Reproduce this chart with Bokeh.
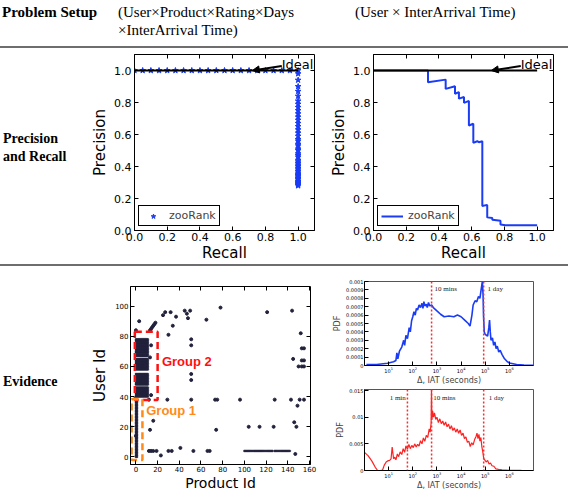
from bokeh.plotting import figure
from bokeh.layouts import column, row
from bokeh.models import (Div, FixedTicker, PrintfTickFormatter, LinearAxis, Arrow, NormalHead,
                          Label, Legend, LegendItem, Span, CustomJSTickFormatter)
from bokeh.embed import file_html
from bokeh.resources import INLINE

# ---------------- data ----------------
# Panel 1: precision / recall (User x Product x Rating x Days x IAT)
pr1_recall = [0.0, 0.05, 0.1, 0.15, 0.2, 0.25, 0.3, 0.35, 0.4, 0.45, 0.5, 0.55, 0.6, 0.65, 0.7,
              0.75, 0.8, 0.85, 0.9, 0.95, 1.0,
              1.0, 1.0, 1.0, 1.0, 1.0, 1.0, 1.0, 1.0, 1.0, 1.0, 1.0, 1.0, 1.0, 1.0, 1.0, 1.0,
              1.0, 1.0, 1.0, 1.0, 1.0, 1.0, 1.0, 1.0, 1.0, 1.0, 1.0, 1.0, 1.0, 1.0, 1.0, 1.0,
              1.0, 1.0, 1.0, 1.0, 1.0, 1.0, 1.0, 1.0, 1.0, 1.0, 1.0, 1.0, 1.0, 1.0, 1.0, 1.0]
pr1_precision = [1.0, 1.0, 1.0, 1.0, 1.0, 1.0, 1.0, 1.0, 1.0, 1.0, 1.0, 1.0, 1.0, 1.0, 1.0,
                 1.0, 1.0, 1.0, 1.0, 1.0, 1.0,
                 0.98, 0.94, 0.90, 0.87, 0.84, 0.81, 0.79, 0.77, 0.75, 0.73, 0.71, 0.69, 0.67,
                 0.65, 0.63, 0.61, 0.59, 0.57, 0.56, 0.54, 0.53, 0.51, 0.50, 0.48, 0.47, 0.46,
                 0.44, 0.43, 0.42, 0.41, 0.40, 0.39, 0.38, 0.37, 0.36, 0.35, 0.345, 0.34, 0.33,
                 0.325, 0.32, 0.31, 0.305, 0.30, 0.295, 0.29, 0.285, 0.28]

# Panel 2: precision / recall (User x IAT)
pr2_recall = [0.0, 0.333, 0.333, 0.441, 0.441, 0.498, 0.498, 0.522, 0.522, 0.553, 0.553,
              0.583, 0.583, 0.610, 0.610, 0.634, 0.644, 0.665, 0.665, 0.695, 0.695, 0.726,
              0.726, 0.776, 0.776, 0.807, 1.0]
pr2_precision = [1.0, 1.0, 0.926, 0.943, 0.885, 0.902, 0.855, 0.865, 0.824, 0.834, 0.798,
                 0.810, 0.656, 0.667, 0.548, 0.558, 0.552, 0.558, 0.153, 0.160, 0.082, 0.078,
                 0.067, 0.061, 0.037, 0.033, 0.033]

ideal_recall = [0.0, 1.0]
ideal_precision = [1.0, 1.0]

# Evidence: user x product scatter
sparse_products = [3, 0, 15, 17, 18, 13, 14, 16, 27, 32, 25, 37, 34, 45, 50, 47, 48, 65, 78, 30,
                   51, 51, 51, 51, 51, 29, 73, 75, 13, 74, 12, 14, 16, 19, 23, 30, 33, 41, 53, 66,
                   68, 0, 16, 121, 144, 152, 153, 155, 145, 153, 155, 150, 153, 155, 96, 128, 143,
                   151, 155, 149, 146, 104, 114, 127, 148, 147, 14, 13, 14, 12]
sparse_users = [90, 84, 86, 88, 89, 84, 85, 87, 96, 96, 94, 93, 87, 97, 97, 95, 92, 91, 99, 81,
                78, 74, 55, 51, 38, 38, 38, 38, 18, 18, 4, 4, 4, 4, 1, 4, 4, 6, 4, 4,
                4, 14, 24, 96, 97, 82, 72, 72, 65, 64, 64, 60, 60, 60, 38, 38, 38,
                38, 38, 34, 23, 20, 20, 20, 20, 2, 74, 66, 41, 38]
group2_products = [0, 1, 2, 3, 4, 5, 6, 7, 8, 9, 10, 11]
group2_users = [40, 41, 42, 43, 44, 45, 46, 48, 49, 50, 51, 52, 53, 54, 55, 58, 59, 60, 61, 62,
                63, 64, 65, 67, 68, 69, 70, 71, 72, 73, 74, 75, 76, 77, 78]
group1_products = [0, 1]
group1_users = [0, 1, 2, 3, 4, 5, 6, 7, 8, 9, 10, 11, 12, 13, 14, 15, 16, 17, 18, 19, 20, 21,
                22, 23, 24, 25, 26, 27, 28, 29, 30, 31, 32, 33, 34, 35, 36, 37, 38]
tail_products = [100, 101, 102, 103, 104, 105, 106, 107, 108, 109, 110, 111, 112, 113, 114, 115,
                 116, 117, 118, 119, 120, 121, 122, 123, 124, 125, 126, 128, 129, 130, 131, 132,
                 133, 134, 135, 136, 137, 138, 139, 140, 141, 142]
tail_user = 4

# Evidence: IAT PDFs
blue_iat = [1.2, 3.2, 9, 16, 20, 22, 24, 28, 35, 42, 46, 52, 60, 71, 79, 89, 100, 112, 126, 141,
            158, 182, 209, 240, 263, 288, 316, 363, 398, 447, 501, 603, 708, 1000, 1413, 1995,
            3162, 5012, 7079, 10000, 14125, 19953, 23442, 28184, 31623, 38019, 44668, 52481,
            60256, 69183, 75858, 81283, 85114, 91201, 100000, 112202, 125893, 141254, 151356,
            162181, 173780, 199526, 223872, 251189, 281838, 316228, 363078, 416869, 501187,
            630957, 794328, 1000000, 2000000, 4000000, 10000000]
blue_pdf = [0.00001, 0.000012, 0.000027, 0.000045, 0.00006, 0.00015, 0.00008, 0.00017, 0.00022,
            0.00030, 0.00024, 0.00036, 0.00032, 0.00045, 0.00040, 0.00053, 0.00058, 0.00064,
            0.00060, 0.00068, 0.00066, 0.00072, 0.00069, 0.00074, 0.00068, 0.00076, 0.00071,
            0.00073, 0.00069, 0.00075, 0.00071, 0.00072, 0.00069, 0.00065, 0.00061, 0.00058,
            0.00059, 0.00058, 0.00060, 0.00058, 0.00054, 0.00050, 0.00047, 0.00060, 0.00072,
            0.00077, 0.00076, 0.00082, 0.00080, 0.00092, 0.00100, 0.00085, 0.00060, 0.00040,
            0.00037, 0.00036, 0.00035, 0.00045, 0.00054, 0.00040, 0.00030, 0.00033, 0.00024,
            0.00028, 0.00020, 0.00023, 0.00016, 0.00018, 0.00013, 0.00008, 0.00005, 0.00003,
            0.000012, 0.000005, 0.000002]
red_iat = [1, 1.4, 2, 2.8, 3.5, 4.5, 5.6, 6.6, 7.9, 9.1, 11, 12.6, 14, 16, 18, 20, 23, 26, 30, 35,
           40, 46, 52, 60, 69, 79, 91, 105, 120, 138, 158, 182, 209, 240, 275, 316, 363, 417,
           479, 525, 575, 596, 617, 661, 724, 794, 891, 1000, 1148, 1318, 1514, 1738, 1995,
           2291, 2630, 3020, 3467, 3981, 4571, 5248, 6026, 6918, 7943, 9120, 10471, 12023,
           13804, 15849, 18197, 20893, 23988, 27542, 31623, 36308, 41687, 45709, 50119, 54954,
           60256, 66069, 72444, 79433, 87096, 95499, 109648, 125893, 144544, 165959, 190546,
           229087, 275423, 354813, 501187, 1000000, 3160000, 10000000]
red_pdf = [0.0034, 0.0028, 0.0018, 0.0006, 0.0, 0.0, 0.0001, 0.0010, 0.0016, 0.0018, 0.0019,
           0.0022, 0.0044, 0.0022, 0.0025, 0.0020, 0.0031, 0.0026, 0.0035, 0.0030, 0.0041,
           0.0034, 0.0046, 0.0040, 0.0049, 0.0041, 0.0047, 0.0043, 0.0050, 0.0044, 0.0049,
           0.0046, 0.0056, 0.0050, 0.0061, 0.0055, 0.0066, 0.0062, 0.0078, 0.0072, 0.0089,
           0.0153, 0.0095, 0.0112, 0.0100, 0.0108, 0.0096, 0.0100, 0.0090, 0.0097, 0.0088,
           0.0093, 0.0085, 0.0091, 0.0082, 0.0087, 0.0078, 0.0084, 0.0075, 0.0080, 0.0072,
           0.0078, 0.0070, 0.0076, 0.0066, 0.0070, 0.0060, 0.0063, 0.0053, 0.0055, 0.0045,
           0.0052, 0.0048, 0.0058, 0.0064, 0.0070, 0.0060, 0.0068, 0.0055, 0.0062, 0.0045,
           0.0035, 0.0022, 0.0020, 0.0016, 0.0019, 0.0012, 0.0014, 0.0009, 0.0008, 0.0003,
           0.0002, 0.0001, 0.00004, 0.00001, 0.0]

pr_ticks = [0.0, 0.2, 0.4, 0.6, 0.8, 1.0]
scatter_xticks = [0, 20, 40, 60, 80, 100, 120, 140, 160]
scatter_yticks = [0, 20, 40, 60, 80, 100]
log_ticks = [10, 100, 1000, 10000, 100000, 1000000]
blue_yticks = [0, 0.0001, 0.0002, 0.0003, 0.0004, 0.0005, 0.0006, 0.0007, 0.0008, 0.0009, 0.001]
red_yticks = [0, 0.005, 0.01, 0.015]
blue_marks = [600, 86400]
blue_mark_labels = ["10 mins", "1 day"]
red_marks = [60, 600, 86400]
red_mark_labels = ["1 min", "10 mins", "1 day"]

# ---------------- styles ----------------
BLUE = "#1a3cf5"
RED = "#ff2020"
DOT = "#22223c"
SANS = "DejaVu Sans"
SERIF = "Liberation Serif"
RULE = "#6e6e6e"


def base_fig(**kw):
    p = figure(output_backend="svg", toolbar_location=None, margin=0,
               background_fill_color="white", border_fill_color="white", **kw)
    p.grid.visible = False
    p.outline_line_color = "black"
    p.outline_line_width = 1
    p.outline_line_alpha = 1
    return p


def style_axis(ax, ticks, tick_size, label_size, label_standoff, tick_standoff=2, fmt=None):
    if ticks is not None:
        ax.ticker = FixedTicker(ticks=ticks)
    if fmt is not None:
        ax.formatter = fmt
    ax.major_label_text_font = SANS
    ax.major_label_text_font_size = tick_size
    ax.major_label_text_color = "black"
    ax.major_label_standoff = tick_standoff
    ax.axis_label_text_font = SANS
    ax.axis_label_text_font_size = label_size
    ax.axis_label_text_font_style = "normal"
    ax.axis_label_text_color = "black"
    ax.axis_label_standoff = label_standoff
    ax.major_tick_in = 4
    ax.major_tick_out = 0
    ax.minor_tick_line_alpha = 0
    ax.axis_line_color = "black"


def mirror_axes(p, xt, yt):
    blank = CustomJSTickFormatter(code="return ''")
    for place, ticks in (("above", xt), ("right", yt)):
        ax = LinearAxis(ticker=FixedTicker(ticks=ticks), formatter=blank,
                        major_tick_in=4, major_tick_out=0, minor_tick_line_alpha=0,
                        axis_line_alpha=0, major_label_standoff=0,
                        major_label_text_font_size="1px")
        p.add_layout(ax, place)


def pr_figure(ml, mr):
    p = base_fig(frame_width=180, frame_height=176, x_range=(0, 1.1), y_range=(0, 1.1),
                 min_border_left=ml, min_border_right=mr, min_border_top=6, min_border_bottom=33)
    fmt = PrintfTickFormatter(format="%.1f")
    style_axis(p.xaxis[0], pr_ticks, "11px", "15px", 0, 2, fmt)
    style_axis(p.yaxis[0], pr_ticks, "11px", "15px", 2, 3, fmt)
    p.xaxis.axis_label = "Recall"
    p.yaxis.axis_label = "Precision"
    mirror_axes(p, pr_ticks, pr_ticks)
    return p


def add_ideal(p):
    p.line(ideal_recall, ideal_precision, line_color="black", line_width=2)
    p.add_layout(Arrow(end=NormalHead(size=7, fill_color="black", line_color="black"),
                       x_start=0.9, y_start=1.028, x_end=0.72, y_end=1.0,
                       line_color="black", line_width=2))
    p.add_layout(Label(x=0.9, y=1.036, text="Ideal", text_font=SANS, text_font_size="13px",
                       text_baseline="alphabetic", text_color="black"))


def add_legend(p, r):
    leg = Legend(items=[LegendItem(label="zooRank", renderers=[r])], location="bottom_left",
                 border_line_color="black", border_line_width=1, border_line_alpha=1,
                 label_text_font=SANS, label_text_font_size="11px", padding=3, margin=4,
                 glyph_width=22, glyph_height=12, label_height=12, spacing=0,
                 background_fill_color="white", background_fill_alpha=1)
    p.add_layout(leg)


# ---------------- header ----------------
header_html = (
    '<div style="position:relative;width:568px;height:46px;font-family:\'Liberation Serif\',serif;'
    'font-size:15px;line-height:18px;color:#000;white-space:nowrap">'
    '<div style="position:absolute;left:2px;top:3px;font-weight:bold">Problem Setup</div>'
    '<div style="position:absolute;left:118px;top:3px">(User×Product×Rating×Days</div>'
    '<div style="position:absolute;left:118px;top:21px">×InterArrival Time)</div>'
    '<div style="position:absolute;left:355px;top:3px">(User × InterArrival Time)</div></div>')
header = Div(text=header_html, width=568, height=46, margin=0)


def rule():
    return Div(text="", width=568, height=2, margin=0, styles={"background-color": RULE})


def row_label(html, pad):
    return Div(text=('<div style="padding-top:%dpx;padding-left:3px;font-family:\'Liberation Serif\',serif;'
                     'font-weight:bold;font-size:14px;line-height:18px;color:#000;'
                     'white-space:nowrap">%s</div>' % (pad, html)),
               width=88, height=200, margin=0)


# ---------------- row 2: precision / recall ----------------
p1 = pr_figure(40, 13)
r1 = p1.scatter(pr1_recall, pr1_precision, marker="star", size=6, fill_color=BLUE,
                line_color=BLUE)
add_ideal(p1)
add_legend(p1, r1)

p2 = pr_figure(40, 10)
r2 = p2.line(pr2_recall, pr2_precision, line_color=BLUE, line_width=2)
add_ideal(p2)
add_legend(p2, r2)

row2 = row(row_label("Precision<br>and Recall", 82), p1, p2, margin=0)

# ---------------- row 3: evidence ----------------
p3 = base_fig(frame_width=180, frame_height=178, x_range=(-5, 161), y_range=(-5, 113),
              min_border_left=40, min_border_right=20, min_border_top=20, min_border_bottom=26)
style_axis(p3.xaxis[0], scatter_xticks, "7px", "14px", 0, 1)
style_axis(p3.yaxis[0], scatter_yticks, "7px", "15px", 3, 2)
p3.xaxis.axis_label = "Product Id"
p3.yaxis.axis_label = "User Id"
mirror_axes(p3, scatter_xticks, scatter_yticks)

block_x, block_y = [], []
for u in group2_users:
    for pr in group2_products:
        block_x.append(pr)
        block_y.append(u)
for u in group1_users:
    for pr in group1_products:
        block_x.append(pr)
        block_y.append(u)
for pr in tail_products:
    block_x.append(pr)
    block_y.append(tail_user)

p3.scatter(block_x, block_y, size=2.0, fill_color=DOT, line_color=DOT, line_width=0.4)
p3.scatter(sparse_products, sparse_users, size=3.0, fill_color=DOT, line_color=DOT)

p3.quad(left=[-1], right=[20], bottom=[37.7], top=[83], fill_alpha=0, line_color="#ff1010",
        line_width=2.5, line_dash="7 4")
p3.quad(left=[-4], right=[6], bottom=[-2], top=[38.3], fill_alpha=0, line_color="#ff8a1c",
        line_width=2.5, line_dash="7 4")
p3.add_layout(Label(x=24, y=63.5, text="Group 2", text_font="Liberation Sans",
                    text_font_size="13px", text_font_style="bold", text_color="#ff1010",
                    text_baseline="middle"))
p3.add_layout(Label(x=9.5, y=30.5, text="Group 1", text_font="Liberation Sans",
                    text_font_size="13px", text_font_style="bold", text_color="#ff8a1c",
                    text_baseline="middle"))


def pdf_figure(yrange, fh, mt, mb, yticks):
    p = base_fig(x_axis_type="log", x_range=(1, 1e7), y_range=yrange, frame_width=169,
                 frame_height=fh, min_border_left=30, min_border_right=10, min_border_top=mt,
                 min_border_bottom=mb)
    style_axis(p.xaxis[0], log_ticks, "5px", "8px", 0, 1)
    style_axis(p.yaxis[0], yticks, "5px", "8px", 1, 1, PrintfTickFormatter(format="%g"))
    p.outline_line_color = "#555555"
    p.xaxis.axis_label = "Δ, IAT (seconds)"
    p.yaxis.axis_label = "PDF"
    p.yaxis.axis_label_text_color = "#444444"
    p.xaxis.axis_label_text_color = "#444444"
    return p


p4 = pdf_figure((0, 0.001), 84, 15, 18, blue_yticks)
p4.line(blue_iat, blue_pdf, line_color=BLUE, line_width=1.6)
for m in blue_marks:
    p4.add_layout(Span(location=m, dimension="height", line_color="#ff2a2a",
                       line_dash="2 2", line_width=1.5))
p4.add_layout(Label(x=800, y=0.00086, text=blue_mark_labels[0], text_font=SERIF,
                    text_font_size="7px", text_color="#222222"))
p4.add_layout(Label(x=125000, y=0.00086, text=blue_mark_labels[1], text_font=SERIF,
                    text_font_size="7px", text_color="#222222"))

p5 = pdf_figure((0, 0.0152), 81, 2, 18, red_yticks)
p5.line(red_iat, red_pdf, line_color=RED, line_width=1.2)
for m in red_marks:
    p5.add_layout(Span(location=m, dimension="height", line_color="#ff2a2a",
                       line_dash="2 2", line_width=1.5))
p5.add_layout(Label(x=11, y=0.0128, text=red_mark_labels[0], text_font=SERIF,
                    text_font_size="7px", text_color="#222222"))
p5.add_layout(Label(x=700, y=0.0128, text=red_mark_labels[1], text_font=SERIF,
                    text_font_size="7px", text_color="#222222"))
p5.add_layout(Label(x=140000, y=0.0128, text=red_mark_labels[2], text_font=SERIF,
                    text_font_size="7px", text_color="#222222"))

row3 = row(row_label("Evidence", 107), p3, column(p4, p5, margin=0), margin=0)

page = column(header, rule(), row2, rule(), row3, margin=0)

open("out.html", "w").write(file_html(page, INLINE))
